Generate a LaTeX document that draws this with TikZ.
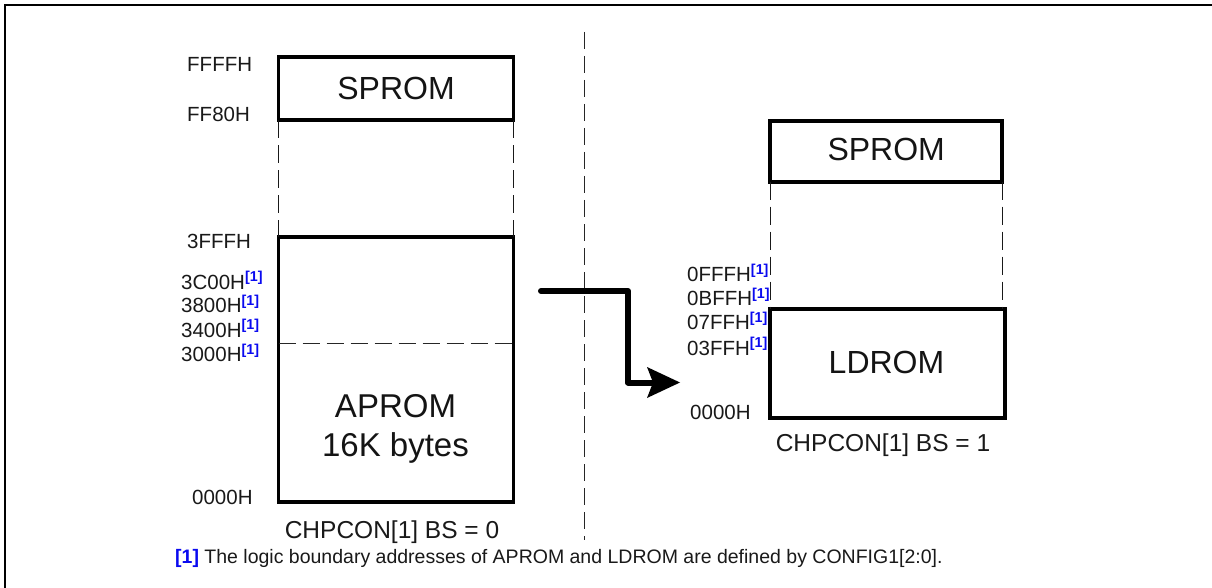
\documentclass[tikz,border=0pt]{standalone}
\usepackage{fontspec}
\setmainfont{Liberation Sans}
\usetikzlibrary{calc}
\definecolor{fnblue}{RGB}{10,10,240}
\newcommand{\fnmk}{\textsuperscript{\textcolor{fnblue}{\bfseries [1]}}}
\tikzset{
  x=1pt,y=-1pt,
  memorybox/.style={draw=black,line width=3.9pt,outer sep=0pt,fill=white,inner sep=0pt,align=center,font=\fontsize{32}{38}\selectfont,text=black!92},
  addr/.style={anchor=west,inner sep=0pt,font=\fontsize{20.5}{24}\selectfont,text=black!90},
  caption/.style={inner sep=0pt,font=\fontsize{24.5}{28}\selectfont,text=black!90},
  guide/.style={draw=black!90,line width=1.1pt,dash pattern=on 18pt off 7pt},
  midline/.style={draw=black!85,line width=1pt,dash pattern=on 17pt off 7pt},
  flow/.style={draw=black,line width=6pt,line cap=round,line join=round}
}
\begin{document}
\begin{tikzpicture}
\useasboundingbox (0,0) rectangle (1212,588);
\fill[white] (0,0) rectangle (1212,588);
\coordinate (fa) at (5,588);
\coordinate (fb) at (5,5);
\coordinate (fc) at (1212,5);
\draw[black,line width=2.4pt] (fa) -- (fb) -- (fc);
% guides behind boxes
\coordinate (mtop) at (584.5,32);
\coordinate (mbot) at (584.5,540);
\draw[midline] (mtop) -- (mbot);
% boxes
\node[memorybox,minimum width=235pt,minimum height=63.6pt] (sp1) at (396,88.5) {SPROM};
\node[memorybox,minimum width=235pt,minimum height=265pt] (ap) at (396,369.2) {};
\node[memorybox,minimum width=232.3pt,minimum height=60.7pt,text depth=4.5pt] (sp2) at (886.2,151.35) {SPROM};
\node[memorybox,minimum width=235pt,minimum height=109pt,text depth=2.5pt] (ld) at (887.8,363.8) {LDROM\hspace{2.6pt}};
\node[inner sep=0pt,align=center,font=\fontsize{33}{39.5}\selectfont,text=black!92] (aptext) at (395.5,429) {APROM\\16K bytes};
\draw[guide] (sp1.south west) -- (ap.north west);
\draw[guide] (sp1.south east) -- (ap.north east);
\draw[guide] (sp2.south west) -- (ld.north west -| sp2.south west);
\draw[guide] (sp2.south east) -- (ld.north east -| sp2.south east);
\coordinate (apl) at (ap.west |- 0,343.5);
\coordinate (apr) at (ap.east |- 0,343.5);
\draw[midline] (apl) -- (apr);
% arrow
\coordinate (a1) at (541,291);
\coordinate (a2) at (628,291);
\coordinate (a3) at (628,382.5);
\coordinate (a4) at (660,382.5);
\coordinate (tip) at (680,382.5);
\draw[flow] (a1) -- (a2) -- (a3) -- (a4);
\fill[black] (tip) -- (647,367) -- (653,382.5) -- (647,398) -- cycle;
% left addresses
\node[addr] (l1) at (187,64) {FFFFH};
\node[addr] (l2) at (187,114) {FF80H};
\node[addr] (l3) at (187,241) {3FFFH};
\node[addr] (l4) at (181,280.5) {3C00H\fnmk};
\node[addr] (l5) at (181,304) {3800H\fnmk};
\node[addr] (l6) at (181,328.5) {3400H\fnmk};
\node[addr] (l7) at (181,353) {3000H\fnmk};
\node[addr] (l8) at (192,497) {0000H};
% right addresses
\node[addr] (r1) at (687,273) {0FFFH\fnmk};
\node[addr] (r2) at (687,297) {0BFFH\fnmk};
\node[addr] (r3) at (687,321) {07FFH\fnmk};
\node[addr] (r4) at (687,346.5) {03FFH\fnmk};
\node[addr] (r5) at (690,412) {0000H};
% captions
\node[caption] (c1) at (392,532) {CHPCON[1] BS = 0};
\node[caption] (c2) at (883,445.5) {CHPCON[1] BS = 1};
\node[anchor=west,inner sep=0pt,font=\fontsize{19.5}{23}\selectfont,text=black!90] (fn) at (175,558.5) {\textcolor{fnblue}{\bfseries [1]} The logic boundary addresses of APROM and LDROM are defined by CONFIG1[2:0].};
\end{tikzpicture}
\end{document}
